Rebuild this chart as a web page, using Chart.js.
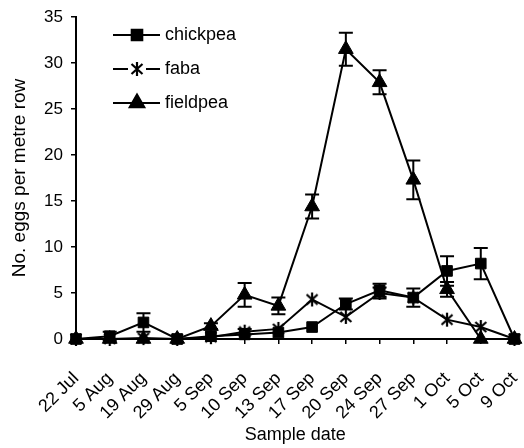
<!DOCTYPE html>
<html>
<head>
<meta charset="utf-8">
<script src="https://cdn.jsdelivr.net/npm/chart.js@4.4.1/dist/chart.umd.min.js"></script>
<style>
  html, body { margin: 0; padding: 0; background: #fff; }
  #wrap { width: 524px; height: 448px; }
</style>
</head>
<body>
<div id="wrap"><canvas id="eggChart" width="524" height="448"></canvas></div>
<script>
// sample dates
var dates = ['22 Jul', '5 Aug', '19 Aug', '29 Aug', '5 Sep', '10 Sep', '13 Sep',
  '17 Sep', '20 Sep', '24 Sep', '27 Sep', '1 Oct', '5 Oct', '9 Oct'];

// mean eggs per metre row
var chickpea = [0, 0.3, 1.8, 0, 0.3, 0.5, 0.7, 1.3, 3.8, 5.3, 4.5, 7.4, 8.2, 0];
var faba     = [0, 0, 0.1, 0, 0.2, 0.8, 1.1, 4.3, 2.4, 5.0, 4.5, 2.1, 1.3, 0];
var fieldpea = [0, 0, 0, 0, 1.4, 4.8, 3.6, 14.4, 31.5, 27.9, 17.3, 5.4, 0, 0];

// standard errors
var chickpeaErr = [0, 0.5, 1.0, 0, 0, 0, 0, 0, 0.6, 0.7, 0, 1.6, 1.7, 0];
var fabaErr     = [0, 0, 0, 0, 0, 0.3, 0, 0, 0, 0.6, 1.0, 0, 0, 0];
var fieldpeaErr = [0, 0, 0, 0, 0.3, 1.3, 0.9, 1.3, 1.8, 1.3, 2.1, 0.8, 0, 0];

var yTicks = [0, 5, 10, 15, 20, 25, 30, 35];

var FONT = "'Liberation Sans', Arial, sans-serif";

// asterisk marker for faba (x with a vertical stroke)
var star = document.createElement('canvas');
star.width = 16; star.height = 16;
(function () {
  var c = star.getContext('2d');
  c.strokeStyle = '#000';
  c.lineWidth = 2.2;
  c.beginPath();
  c.moveTo(2.5, 3); c.lineTo(13.5, 13);
  c.moveTo(13.5, 3); c.lineTo(2.5, 13);
  c.moveTo(8, 1); c.lineTo(8, 15);
  c.stroke();
})();

// error bars drawn under the markers
var errorBars = {
  id: 'errorBars',
  beforeDatasetsDraw: function (chart) {
    var ctx = chart.ctx, y = chart.scales.y, x = chart.scales.x;
    ctx.save();
    ctx.strokeStyle = '#000';
    ctx.lineWidth = 2;
    chart.data.datasets.forEach(function (ds) {
      ds.err.forEach(function (e, i) {
        if (!e) return;
        var px = x.getPixelForValue(i);
        var top = y.getPixelForValue(ds.data[i] + e);
        var bot = y.getPixelForValue(ds.data[i] - e);
        ctx.beginPath();
        ctx.moveTo(px, top); ctx.lineTo(px, bot);
        ctx.moveTo(px - 7, top); ctx.lineTo(px + 7, top);
        ctx.moveTo(px - 7, bot); ctx.lineTo(px + 7, bot);
        ctx.stroke();
      });
    });
    ctx.restore();
  }
};

// legend inside the plot, line with marker
var insideLegend = {
  id: 'insideLegend',
  afterDraw: function (chart) {
    var ctx = chart.ctx;
    var rows = [35, 69, 103];
    ctx.save();
    chart.data.datasets.forEach(function (ds, k) {
      var yy = rows[k];
      ctx.strokeStyle = '#000';
      ctx.fillStyle = '#000';
      ctx.lineWidth = 2;
      ctx.beginPath();
      ctx.moveTo(113, yy); ctx.lineTo(160, yy);
      ctx.stroke();
      if (ds.label === 'faba') {
        ctx.fillStyle = '#fff';
        ctx.fillRect(128, yy - 3, 18, 6);
        ctx.fillStyle = '#000';
      }
      Chart.helpers.drawPoint(ctx, {
        pointStyle: ds.pointStyle, radius: ds.pointRadius, borderWidth: 1, rotation: 0
      }, 137, yy);
      ctx.font = '18px ' + FONT;
      ctx.textBaseline = 'middle';
      ctx.textAlign = 'left';
      ctx.fillText(ds.label, 165, yy);
    });
    ctx.restore();
  }
};

function line(label, data, err, style, r) {
  return {
    label: label,
    data: data,
    err: err,
    borderColor: '#000',
    backgroundColor: '#000',
    borderWidth: 2,
    pointStyle: style,
    pointRadius: r,
    pointHoverRadius: r,
    pointBorderWidth: 1,
    pointBackgroundColor: '#000',
    pointBorderColor: '#000',
    tension: 0,
    clip: false
  };
}

new Chart(document.getElementById('eggChart'), {
  type: 'line',
  data: {
    labels: dates,
    datasets: [
      line('chickpea', chickpea, chickpeaErr, 'rect', 7.5),
      line('faba', faba, fabaErr, star, 8),
      line('fieldpea', fieldpea, fieldpeaErr, 'triangle', 8.5)
    ]
  },
  plugins: [errorBars, insideLegend],
  options: {
    responsive: false,
    animation: false,
    devicePixelRatio: 1,
    layout: { padding: { top: 17, right: 7, left: 0, bottom: 0 } },
    plugins: {
      legend: { display: false },
      tooltip: { enabled: false }
    },
    scales: {
      x: {
        type: 'category',
        offset: false,
        grid: { display: true, drawOnChartArea: false, drawTicks: true, tickLength: 5, color: '#000', lineWidth: 1.5 },
        border: { color: '#000', width: 2 },
        ticks: {
          color: '#000',
          font: { family: FONT, size: 18 },
          maxRotation: 45,
          minRotation: 45,
          padding: 24,
          autoSkip: false
        },
        title: {
          display: true,
          text: 'Sample date',
          color: '#000',
          font: { family: FONT, size: 18 },
          padding: { top: 0, bottom: 2 }
        },
        afterFit: function (s) { s.height = 109; s.paddingLeft = 0; s.paddingRight = 0; }
      },
      y: {
        min: 0,
        max: 35,
        afterBuildTicks: function (s) { s.ticks = yTicks.map(function (v) { return { value: v }; }); },
        grid: { display: true, drawOnChartArea: false, drawTicks: true, tickLength: 5, color: '#000', lineWidth: 1.5 },
        border: { color: '#000', width: 2 },
        ticks: {
          color: '#000',
          font: { family: FONT, size: 17 },
          padding: 8
        },
        title: {
          display: true,
          text: 'No. eggs per metre row',
          color: '#000',
          font: { family: FONT, size: 19 },
          padding: { top: 8, bottom: 0 }
        },
        afterFit: function (s) { s.width = 76; s.paddingTop = 0; s.paddingBottom = 0; }
      }
    }
  }
});
</script>
</body>
</html>
